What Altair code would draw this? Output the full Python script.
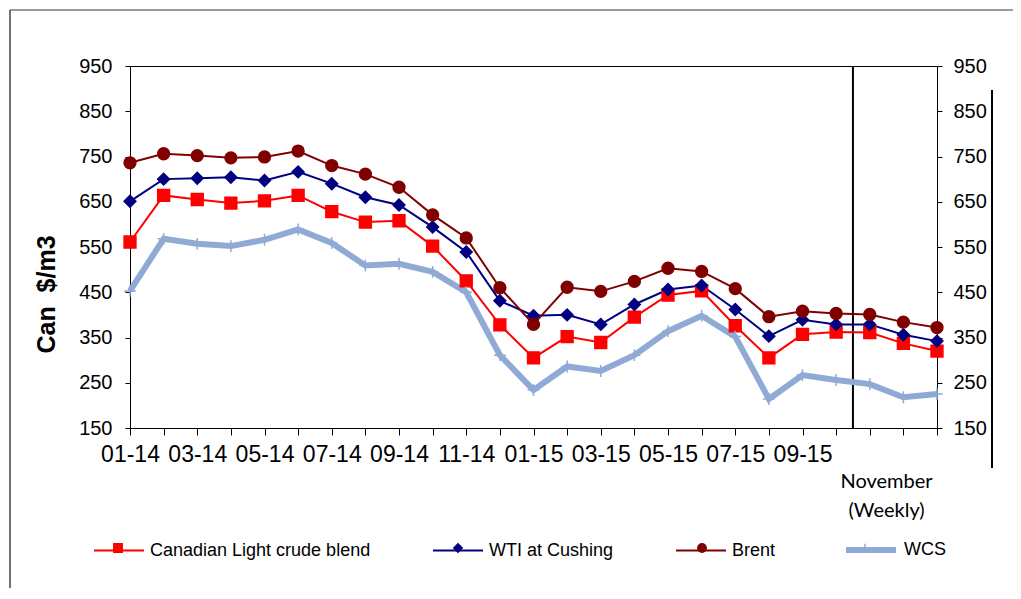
import altair as alt
import pandas as pd

months = ["01-14", "02-14", "03-14", "04-14", "05-14", "06-14", "07-14", "08-14",
          "09-14", "10-14", "11-14", "12-14", "01-15", "02-15", "03-15", "04-15",
          "05-15", "06-15", "07-15", "08-15", "09-15", "10-15"]
weeks = ["Nov W1", "Nov W2", "Nov W3"]
categories = months + weeks

series_names = ["Canadian Light crude blend", "WTI at Cushing", "Brent", "WCS"]
series_colors = ["#FF0000", "#000080", "#800000", "#8FAAD4"]

clb = [561, 664, 655, 647, 652, 664, 628, 605, 608, 552, 475, 378, 305, 352, 339,
       395, 444, 453, 376, 305, 357, 362, 361, 337, 320]
wti = [651, 700, 702, 704, 697, 716, 690, 660, 643, 594, 539, 431, 398, 400, 379,
       423, 456, 465, 412, 353, 389, 379, 379, 356, 342]
brent = [736, 756, 752, 747, 749, 762, 730, 711, 682, 621, 570, 460, 379, 461, 452,
         474, 503, 496, 458, 396, 408, 403, 401, 384, 372]
wcs = [453, 568, 557, 552, 566, 589, 559, 509, 513, 495, 450, 311, 234, 286, 276,
       311, 364, 398, 352, 214, 267, 256, 247, 218, 225]

y_ticks = [150, 250, 350, 450, 550, 650, 750, 850, 950]

shapes = ["square", "diamond", "circle", "M-1,0H1M0,-1V1"]
# the marker scales list the series in reverse order so that their legend is
# kept apart from the line legend; the legend itself keeps the original order
rev_names = series_names[::-1]
rev_colors = series_colors[::-1]
rev_shapes = shapes[::-1]

rows = []
for name, vals in zip(series_names, [clb, wti, brent, wcs]):
    for i, v in enumerate(vals):
        rows.append({"idx": i, "category": categories[i], "series": name, "value": v})
df = pd.DataFrame(rows)

n = len(categories)
divider = len(months) - 0.5
week_label_df = pd.DataFrame({"x": [divider + 1.0], "label": ["November\n(Weekly)"]})
divider_df = pd.DataFrame({"x": [divider], "y1": [y_ticks[0]], "y2": [y_ticks[-1]]})
one = pd.DataFrame({"a": [0]})

FONT = "Liberation Sans"
month_js = "[" + ",".join("'%s'" % c for c in categories) + "]"
label_expr = ("datum.value %% 2 == 0 && datum.value < %d ? %s[datum.value] : ''"
              % (len(months) - 1, month_js))

x_scale = alt.Scale(domain=[0, n - 1], nice=False, zero=False)
y_scale = alt.Scale(domain=[150, 950], nice=False, zero=False)

x_axis = alt.Axis(values=list(range(n)), labelExpr=label_expr, grid=False, title=None,
                  tickSize=7, labelPadding=8, labelFont=FONT, labelFontSize=23,
                  labelColor="black", domainColor="black", tickColor="black",
                  labelAngle=0, labelOverlap=False, labelFlush=False)

LEG_FS = 18
leg1 = alt.Legend(title=None, orient="none", legendX=-37, legendY=456,
                  direction="horizontal", symbolType="stroke", symbolSize=2500,
                  labelOffset=5, labelFont=FONT, labelFontSize=LEG_FS, labelColor="black",
                  labelLimit=400, columnPadding=58)
leg2 = alt.Legend(title=None, orient="none", legendX=-37, legendY=473,
                  direction="horizontal", symbolSize=70, symbolStrokeWidth=1.5,
                  symbolOffset=16, labelOffset=27, labelFont=FONT, labelFontSize=LEG_FS,
                  values=series_names,
                  labelOpacity=0, labelLimit=400, columnPadding=58)

lines = alt.Chart(df).mark_line().encode(
    x=alt.X("idx:Q", scale=x_scale, axis=x_axis),
    y=alt.Y("value:Q", scale=y_scale,
            axis=alt.Axis(orient="left", values=y_ticks, title="Can\u00a0 $/m3", grid=False,
                          tickSize=5, labelPadding=13, labelFont=FONT, labelFontSize=20,
                          labelColor="black", domainColor="black", tickColor="black",
                          titleFont=FONT, titleFontSize=25, titleFontWeight="bold",
                          titleColor="black", titleAngle=270, titleX=-84, titleY=228,
                          titleAlign="center", titleBaseline="middle")),
    color=alt.Color("series:N", scale=alt.Scale(domain=series_names, range=series_colors),
                    legend=leg1),
    strokeWidth=alt.StrokeWidth("series:N",
                                scale=alt.Scale(type="ordinal", domain=series_names,
                                                range=[2, 2, 2, 6]),
                                legend=leg1),
)

points = alt.Chart(df).mark_point(size=140, strokeWidth=1.5, opacity=1).encode(
    x=alt.X("idx:Q", scale=x_scale, axis=x_axis),
    y=alt.Y("value:Q", scale=y_scale,
            axis=alt.Axis(orient="right", values=y_ticks, title=None, grid=False,
                          tickSize=5, labelPadding=11, labelFont=FONT, labelFontSize=20,
                          labelColor="black", domainColor="black", tickColor="black")),
    shape=alt.Shape("series:N", scale=alt.Scale(domain=rev_names, range=rev_shapes),
                    legend=leg2),
    fill=alt.Fill("series:N", scale=alt.Scale(domain=rev_names, range=rev_colors),
                  legend=leg2),
    stroke=alt.Stroke("series:N", scale=alt.Scale(domain=rev_names, range=rev_colors),
                      legend=leg2),
)

divider_rule = alt.Chart(divider_df).mark_rule(color="black", strokeWidth=2).encode(
    x=alt.X("x:Q", scale=x_scale, axis=x_axis),
    y=alt.Y("y1:Q", scale=y_scale, axis=None),
    y2="y2:Q",
)

week_text = alt.Chart(week_label_df).mark_text(
    font="Lato", fontSize=20, align="center", baseline="alphabetic",
    lineBreak="\n", lineHeight=29, color="black"
).encode(
    x=alt.X("x:Q", scale=x_scale, axis=x_axis),
    y=alt.value(422),
    text="label:N",
)

right_line = alt.Chart(one).mark_rule(color="black", strokeWidth=2).encode(
    x=alt.value(862), y=alt.value(24), y2=alt.value(402))
frame_top = alt.Chart(one).mark_rule(color="#7a7a7a", strokeWidth=1.5).encode(
    x=alt.value(-120), x2=alt.value(900), y=alt.value(-56))
frame_left = alt.Chart(one).mark_rule(color="#444444", strokeWidth=1.5).encode(
    x=alt.value(-120), y=alt.value(-56), y2=alt.value(560))

chart = alt.layer(
    frame_top, frame_left, right_line, divider_rule, lines, points, week_text
).resolve_scale(
    y="shared"
).resolve_axis(
    y="independent"
).properties(
    width=807, height=362,
    padding={"left": 122, "top": 58, "right": 76, "bottom": 160},
    autosize=alt.AutoSizeParams(type="none"),
    background="white",
).configure_view(
    stroke="black", strokeWidth=1
)

chart.save("out.html", embed_options={"renderer": "svg", "actions": False})
